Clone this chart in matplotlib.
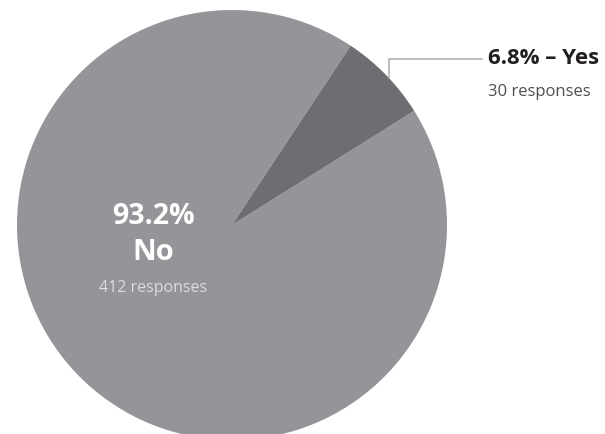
import matplotlib
matplotlib.use("Agg")
import matplotlib.pyplot as plt

# data
labels = ["No", "Yes"]
responses = [412, 30]
colors = ["#939598", "#6d6e71"]

total = sum(responses)
pcts = [r / total * 100 for r in responses]

plt.rcParams['font.family'] = ['Open Sans', 'DejaVu Sans']

fig = plt.figure(figsize=(6.05, 4.34), dpi=100)
ax = fig.add_axes([0, 0, 1, 1])

# pie in pixel-like coordinates (y up)
cx, cy, r = 232, 434 - 225, 215
ax.pie(responses, colors=colors, radius=r, center=(cx, cy),
       startangle=56.5, counterclock=True,
       wedgeprops=dict(linewidth=0))
ax.set_xlim(0, 605)
ax.set_ylim(0, 434)
ax.set_aspect('equal')
ax.axis('off')

# leader line for the small slice
ax.plot([389, 389, 482], [356, 375, 375], color="#b3b3b3", lw=1.2,
        solid_joinstyle='miter')

ax.text(488, 375, f"{pcts[1]:.1f}% – {labels[1]}", fontsize=16, fontweight='bold',
        color="#231f20", ha='left', va='center')
ax.text(488, 342, f"{responses[1]} responses", fontsize=12, color="#4d4d4d",
        ha='left', va='center')

ax.text(153, 218, f"{pcts[0]:.1f}%", fontsize=20.5, fontweight='bold',
        color="white", ha='center', va='center')
ax.text(153, 182, labels[0], fontsize=21, fontweight='bold',
        color="white", ha='center', va='center')
ax.text(153, 146, f"{responses[0]} responses", fontsize=11.5, color="#dcdcdc",
        ha='center', va='center')

fig.savefig("out.png", dpi=100)
